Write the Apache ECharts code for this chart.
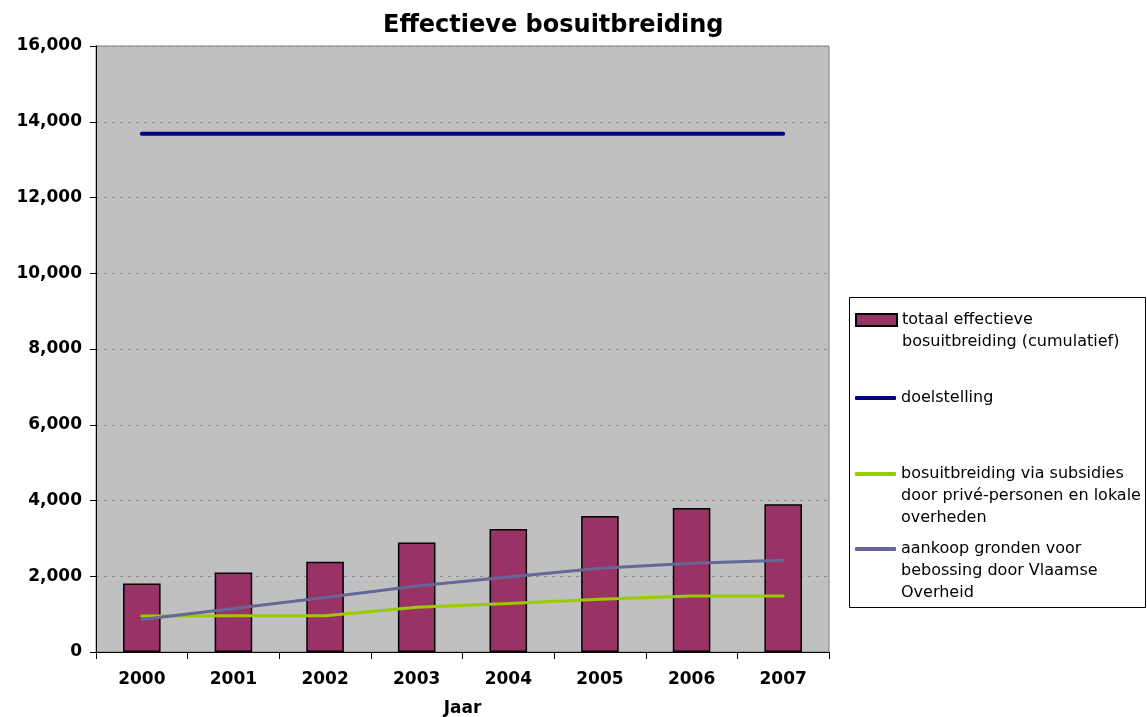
<!DOCTYPE html>
<html>
<head>
<meta charset="utf-8">
<script src="https://cdn.jsdelivr.net/npm/echarts@6/dist/echarts.min.js"></script>
<style>html,body{margin:0;padding:0;background:#fff}#c{width:1147px;height:717px}</style>
</head>
<body>
<div id="c"></div>
<script>
var years = ['2000','2001','2002','2003','2004','2005','2006','2007'];
var totaal = [1810, 2100, 2380, 2890, 3250, 3590, 3800, 3900];
var doelstelling = [13680, 13680, 13680, 13680, 13680, 13680, 13680, 13680];
var subsidies = [950, 955, 955, 1180, 1280, 1390, 1480, 1480];
var aankoop = [860, 1150, 1440, 1740, 1980, 2210, 2340, 2420];
var names = ['totaal effectieve\nbosuitbreiding (cumulatief)', 'doelstelling',
  'bosuitbreiding via subsidies\ndoor privé-personen en lokale\noverheden',
  'aankoop gronden voor\nbebossing door Vlaamse\nOverheid'];
var yTicks = [0, 2000, 4000, 6000, 8000, 10000, 12000, 14000, 16000];

var FONT = 'DejaVu Sans';
var LH = 22;
var lines = [2, 1, 3, 3];
var iconY = [320, 398, 474, 549];
function legendFor(i, icon) {
  var n = lines[i];
  var total = 2 * n - 1;             // n-1 blank lines above keep the first line level with the icon
  var boxH = total * LH;
  return {
    data: [{name: names[i], icon: icon}],
    left: 855, top: iconY[i] - boxH / 2, orient: 'vertical', padding: 0,
    itemWidth: 41, itemHeight: icon === 'rect' ? 12 : 4,
    selectedMode: false,
    formatter: function (name) {
      var k = names.indexOf(name);
      var pre = '';
      for (var j = 1; j < lines[k]; j++) pre += ' \n';
      return pre + name;
    },
    textStyle: {fontFamily: FONT, fontSize: 16, color: '#000', lineHeight: LH}
  };
}
var chart = echarts.init(document.getElementById('c'));
chart.setOption({
  animation: false,
  backgroundColor: '#fff',
  title: {text: 'Effectieve bosuitbreiding', left: 378, top: 9,
    textStyle: {fontFamily: FONT, fontSize: 24, fontWeight: 'bold', color: '#000'}},
  grid: {left: 96, right: 318, top: 46, bottom: 65, show: true, backgroundColor: '#c0c0c0',
    borderColor: '#808080', borderWidth: 1, containLabel: false, outerBoundsMode: 'none'},
  graphic: [{type: 'rect', shape: {x: 849.5, y: 297.5, width: 296, height: 310},
    style: {fill: '#fff', stroke: '#000', lineWidth: 1}, z: -1}],
  legend: [
    legendFor(0, 'rect'),
    legendFor(1, 'roundRect'),
    legendFor(2, 'roundRect'),
    legendFor(3, 'roundRect')
  ],
  xAxis: {type: 'category', data: years, boundaryGap: true,
    name: 'Jaar', nameLocation: 'middle', nameGap: 48,
    nameTextStyle: {fontFamily: FONT, fontSize: 17, fontWeight: 'bold', color: '#000'},
    axisLine: {lineStyle: {color: '#000', width: 1}},
    axisTick: {show: true, length: 7, lineStyle: {color: '#000'}},
    axisLabel: {fontFamily: FONT, fontSize: 17, fontWeight: 'bold', color: '#000', margin: 19},
    splitLine: {show: false}},
  yAxis: {type: 'value', min: 0, max: 16000, interval: 2000,
    axisLine: {show: true, lineStyle: {color: '#000', width: 1}},
    axisTick: {show: true, length: 6, lineStyle: {color: '#000'}},
    axisLabel: {fontFamily: FONT, fontSize: 17, fontWeight: 'bold', color: '#000', margin: 14,
      formatter: function (v) { return yTicks.indexOf(v) >= 0 ? v.toLocaleString('en-US') : ''; }},
    splitLine: {show: true, lineStyle: {color: '#8c8c8c', type: [3, 5], width: 1}}},
  series: [
    {name: names[0], type: 'bar', data: totaal, barWidth: '41%',
      itemStyle: {color: '#993366', borderColor: '#000', borderWidth: 1.5}},
    {name: names[1], type: 'line', data: doelstelling, symbol: 'none',
      lineStyle: {color: '#000080', width: 4, cap: 'round'}, itemStyle: {color: '#000080'}},
    {name: names[2], type: 'line', data: subsidies, symbol: 'none',
      lineStyle: {color: '#99cc00', width: 3, cap: 'round'}, itemStyle: {color: '#99cc00'}},
    {name: names[3], type: 'line', data: aankoop, symbol: 'none',
      lineStyle: {color: '#666699', width: 3, cap: 'round'}, itemStyle: {color: '#666699'}}
  ]
});
</script>
</body>
</html>
